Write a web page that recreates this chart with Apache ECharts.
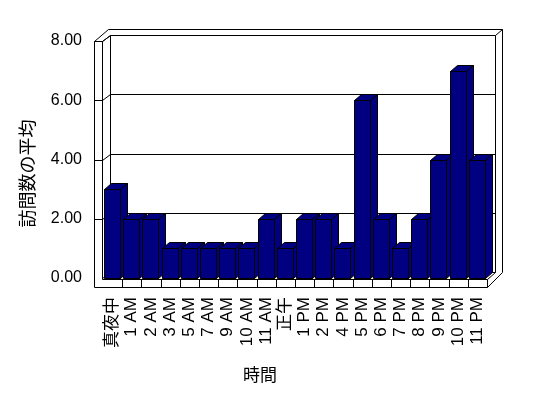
<!DOCTYPE html>
<html>
<head>
	<meta charset="utf-8">
	<title>訪問数の平均</title>
</head>
<body style="margin:0;background:#fff;">
	<div style="width:548px;height:398px;" id="chart1"></div>

	<script src="https://cdn.jsdelivr.net/npm/echarts@6/dist/echarts.min.js"></script>
	<script>
	// 時間帯ごとの訪問数の平均
	var hours = ['真夜中', '1 AM', '2 AM', '3 AM', '5 AM', '7 AM', '9 AM', '10 AM', '11 AM', '正午',
		'1 PM', '2 PM', '4 PM', '5 PM', '6 PM', '7 PM', '8 PM', '9 PM', '10 PM', '11 PM'];
	var visits = [3, 2, 2, 1, 1, 1, 1, 1, 2, 1, 2, 2, 1, 6, 2, 1, 2, 4, 7, 4];
	var yTicks = [0, 2, 4, 6, 8];

	var DX = 7, DY = -6;   // 奥行き
	var FONT = "'Liberation Sans', 'Noto Sans CJK JP', sans-serif";

	function px(v) { return Math.round(v) + 0.5; }

	// 3D風の枠 (背面の壁・左の壁・床)
	function renderFrame(params, api) {
		var band = api.size([1, 0])[0];
		var L = px(api.coord([0, 0])[0] - band / 2);
		var R = px(api.coord([hours.length - 1, 0])[0] + band / 2);
		var B = px(api.coord([0, 0])[1]);
		var T = px(api.coord([0, 8])[1]);
		var ch = [];
		function seg(x1, y1, x2, y2) {
			ch.push({ type: 'line', shape: { x1: x1, y1: y1, x2: x2, y2: y2 },
				style: { stroke: '#000', lineWidth: 1 } });
		}
		var Lo = L - 9, Li = L - 1;
		// 左の壁
		seg(Lo, T, Lo, B + 9);
		seg(Li, T, Li, B + 1);
		seg(Lo, T, Li, T);
		seg(Lo, T, L + 5, T + 2 * DY);
		seg(Li, T, Li + DX + 1, T + DY);
		// 背面の壁
		seg(L + 5, T + 2 * DY, R + 15, T + 2 * DY);
		seg(R + 15, T + 2 * DY, R + 15, B + DY);
		seg(R + 8, T + DY, R + 15, T + 2 * DY);
		seg(Li + DX + 1, T + DY, Li + DX + 1, B + DY);
		seg(R + 8, T + DY, R + 8, B + DY);
		// 目盛線
		yTicks.forEach(function (v) {
			var y = px(api.coord([0, v])[1]);
			if (v > 0) seg(Lo, y, Li, y);
			seg(Li, y, Li + DX + 1, y + DY);
			seg(Li + DX + 1, y + DY, R + 8, y + DY);
		});
		// 床
		seg(Li, B + 1, R, B + 1);
		seg(Lo, B + 9, R, B + 9);
		seg(R, B + 1, R, B + 9);
		for (var i = 1; i < hours.length; i++) {
			var x = px(api.coord([i, 0])[0] - band / 2);
			seg(x, B + 1, x, B + 9);
		}
		seg(R, B + 1, R + 8, B + DY);
		seg(R, B + 9, R + 15, B + DY);
		return { type: 'group', children: ch };
	}

	// 立体の棒
	function renderBar(params, api) {
		var band = api.size([1, 0])[0];
		var c = api.coord([api.value(0), 0]);
		var t = api.coord([api.value(0), api.value(1)]);
		var x0 = px(c[0] - band / 2 + 1);
		var x1 = x0 + 16;
		var yb = px(c[1]), yt = px(t[1]);
		var st = { fill: '#000080', stroke: '#000', lineWidth: 1 };
		return { type: 'group', children: [
			{ type: 'polygon', shape: { points: [[x0, yb], [x0, yt], [x1, yt], [x1, yb]] }, style: st },
			{ type: 'polygon', shape: { points: [[x0, yt], [x0 + DX, yt + DY], [x1 + DX, yt + DY], [x1, yt]] }, style: st },
			{ type: 'polygon', shape: { points: [[x1, yt], [x1 + DX, yt + DY], [x1 + DX, yb + DY], [x1, yb]] }, style: st }
		] };
	}

	var myChart = echarts.init(document.getElementById('chart1'));

	var option = {
		backgroundColor: '#fff',
		animation: false,
		grid: { left: 103, right: 61, top: 41, bottom: 120 },
		xAxis: {
			type: 'category',
			data: hours,
			name: '時間',
			nameLocation: 'middle',
			nameGap: 90,
			nameTextStyle: { fontFamily: FONT, fontSize: 17, color: '#000', padding: [0, 70, 0, 0] },
			axisLine: { show: false },
			axisTick: { show: false },
			axisLabel: { rotate: 90, margin: 19, interval: 0, fontFamily: FONT, fontSize: 17, color: '#000' }
		},
		yAxis: {
			type: 'value',
			min: 0,
			max: 8,
			interval: 2,
			name: '訪問数の平均',
			nameLocation: 'middle',
			nameGap: 65,
			nameRotate: 90,
			nameTextStyle: { fontFamily: FONT, fontSize: 18, color: '#000', padding: [0, 28, 0, 0] },
			axisLine: { show: false },
			axisTick: { show: false },
			splitLine: { show: false },
			axisLabel: {
				margin: 21, fontFamily: FONT, fontSize: 16, color: '#000',
				formatter: function (v) { return v.toFixed(2); }
			}
		},
		series: [
			{
				type: 'custom',
				silent: true,
				renderItem: renderFrame,
				data: [[0, 0]],
				encode: { x: 0, y: 1 },
				z: 1
			},
			{
				type: 'custom',
				renderItem: renderBar,
				data: visits.map(function (v, i) { return [i, v]; }),
				encode: { x: 0, y: 1 },
				z: 2
			}
		]
	};

	myChart.setOption(option);
	</script>
</body>
</html>
